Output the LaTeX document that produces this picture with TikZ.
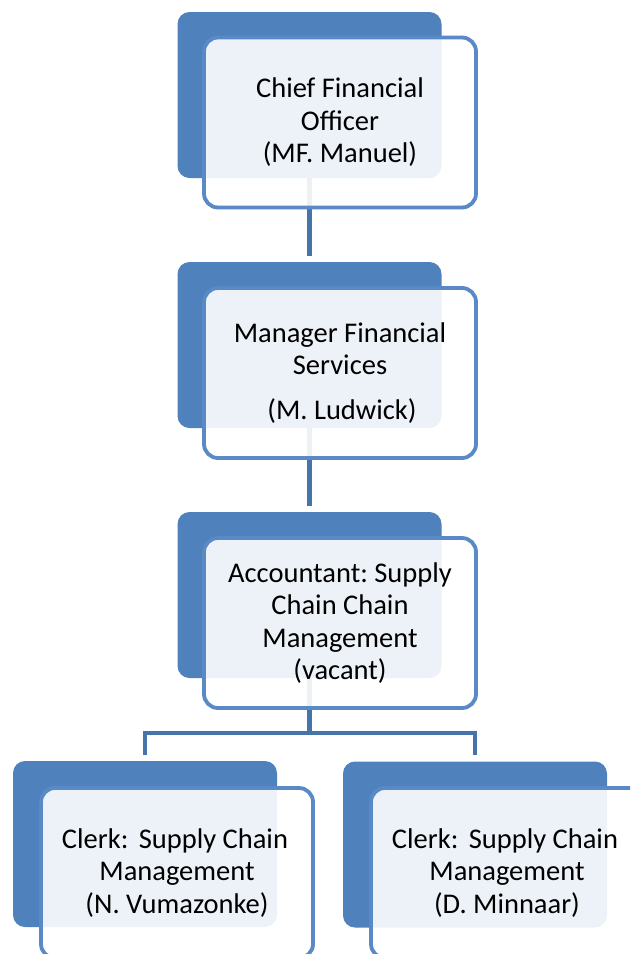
\documentclass[tikz,border=0pt]{standalone}
\usepackage{fontspec}
\setmainfont{Carlito}
\usetikzlibrary{calc}
\pgfdeclarelayer{bg}
\pgfsetlayers{bg,main}
\definecolor{accent}{HTML}{4F81BD}
\definecolor{edge}{HTML}{5A8AC6}
\definecolor{wire}{HTML}{4673AA}
\tikzset{
  backbox/.style={rectangle, rounded corners=12pt, fill=accent, minimum width=264pt, minimum height=166pt, inner sep=0pt},
  frontbox/.style={rectangle, rounded corners=14pt, draw=edge, line width=3.8pt, fill=white, fill opacity=0.9, text opacity=1, minimum width=272pt, minimum height=170pt, inner sep=0pt, align=center, font=\fontsize{28.5}{32.5}\selectfont\frenchspacing},
  link/.style={draw=wire, line width=4.5pt, shorten >=6pt}
}
\begin{document}
\begin{tikzpicture}[x=1pt,y=-1pt]
\useasboundingbox (0,0) rectangle (630,954);
\clip (0,0) rectangle (630,954);
% unit 1
\node[backbox] (b1) at (309.5,95) {};
\node[frontbox] (f1) at (340,122.5) {Chief Financial\\Officer\\(MF. Manuel)};
% unit 2
\node[backbox] (b2) at (309.5,345) {};
\node[frontbox] (f2) at (340,373) {Manager Financial\\Services\\[12pt]\hspace{4pt}(M. Ludwick)};
% unit 3
\node[backbox] (b3) at (309.5,595) {};
\node[frontbox] (f3) at (340,623) {Accountant: Supply\\Chain Chain\\Management\\(vacant)};
% unit 4
\node[backbox] (b4) at (145,844) {};
\node[frontbox] (f4) at (177,873) {\hspace{-4pt}Clerk:\hspace{4pt} Supply Chain\\Management\\(N. Vumazonke)};
% unit 5
\node[backbox] (b5) at (475,844.5) {};
\node[frontbox] (f5) at (507,873) {\hspace{-4pt}Clerk:\hspace{4pt} Supply Chain\\Management\\(D. Minnaar)};
% connectors
\begin{pgfonlayer}{bg}
\fill[white] (0,0) rectangle (630,954);
\draw[link] (b1.center) -- (b2.north);
\draw[link] (b2.center) -- (b3.north);
\coordinate (split) at ($(b3.south)+(0,55)$);
\draw[link, shorten >=0pt] (b3.center) -- (split);
\draw[link] (split) -| (b4.north);
\draw[link] (split) -| (b5.north);
\end{pgfonlayer}
\end{tikzpicture}
\end{document}
